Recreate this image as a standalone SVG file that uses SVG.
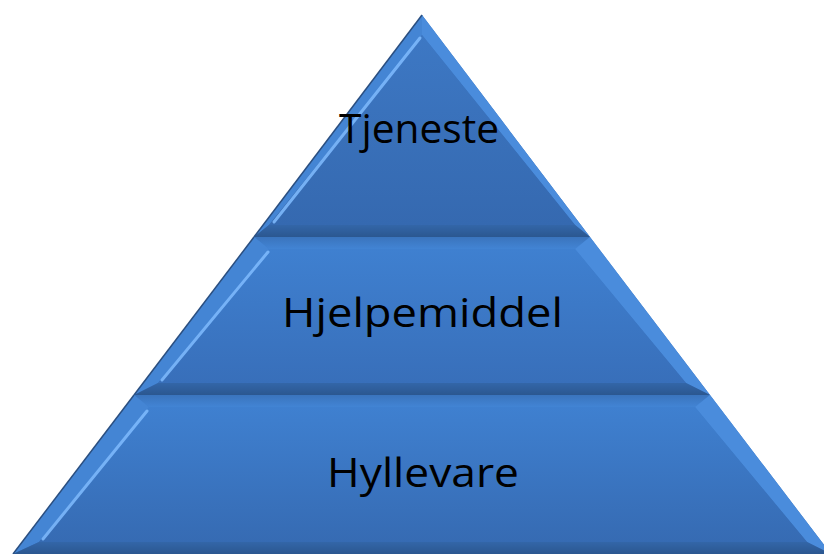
<svg xmlns="http://www.w3.org/2000/svg" width="824" height="554" viewBox="0 0 824 554">
<defs>
<linearGradient id="gTop" x1="0" y1="0" x2="0" y2="1"><stop offset="0" stop-color="#3d78c4"/><stop offset="1" stop-color="#3569b0"/></linearGradient>
<linearGradient id="gMid" x1="0" y1="0" x2="0" y2="1"><stop offset="0" stop-color="#3f80d0"/><stop offset="1" stop-color="#386fba"/></linearGradient>
<linearGradient id="gBot" x1="0" y1="0" x2="0" y2="1"><stop offset="0" stop-color="#3f80d0"/><stop offset="1" stop-color="#366bb3"/></linearGradient>
<linearGradient id="gBotBevel" x1="0" y1="0" x2="0" y2="1"><stop offset="0" stop-color="#3366a8"/><stop offset="1" stop-color="#2b5790"/></linearGradient>
<linearGradient id="gTopBevel" x1="0" y1="0" x2="0" y2="1"><stop offset="0" stop-color="#3a74bd"/><stop offset="1" stop-color="#4284d4"/></linearGradient>
</defs>
<style>
.tb{fill:url(#gTopBevel)}
.lb{fill:#4485d4}
.rb{fill:#4a8cdc}
.bb{fill:url(#gBotBevel)}
.hl{stroke:#80bcff;stroke-width:3;stroke-linecap:round;fill:none;opacity:0.85}
.edge{stroke:#2b4f80;stroke-width:1.5;fill:none}
.lbl{font-family:"Open Sans","Liberation Sans",sans-serif;font-size:41px;fill:#000;text-anchor:middle}
</style>
<g id="tier-top">
<polygon points="422,15 590,237 254,237" fill="url(#gTop)"/>
<polygon class="lb" points="422,15 422,35 269,225 254,237"/>
<polygon class="rb" points="422,15 590,237 575,225 422,35"/>
<polygon class="bb" points="254,237 269,225 575,225 590,237"/>
<polygon points="422,35 575,225 269,225" fill="url(#gTop)"/>
<line class="hl" x1="420" y1="38" x2="274" y2="222"/>
<line class="edge" x1="422" y1="15" x2="254" y2="237"/>
<text class="lbl" x="419" y="143" textLength="160" lengthAdjust="spacingAndGlyphs">Tjeneste</text>
</g>
<g id="tier-middle">
<polygon points="254,237 590,237 710,395 134,395" fill="url(#gMid)"/>
<polygon class="tb" points="254,237 590,237 575,249 269,249"/>
<polygon class="lb" points="254,237 269,249 158,383 134,395"/>
<polygon class="rb" points="590,237 710,395 686,383 575,249"/>
<polygon class="bb" points="134,395 158,383 686,383 710,395"/>
<polygon points="269,249 575,249 686,383 158,383" fill="url(#gMid)"/>
<line class="hl" x1="268" y1="252" x2="162" y2="380"/>
<line class="edge" x1="254" y1="237" x2="134" y2="395"/>
<text class="lbl" x="422.5" y="327" textLength="281" lengthAdjust="spacingAndGlyphs">Hjelpemiddel</text>
</g>
<g id="tier-bottom">
<polygon points="134,395 710,395 831,554 13,554" fill="url(#gBot)"/>
<polygon class="tb" points="134,395 710,395 695,407 149,407"/>
<polygon class="lb" points="134,395 149,407 39,542 13,554"/>
<polygon class="rb" points="710,395 831,554 807,542 695,407"/>
<polygon class="bb" points="13,554 39,542 807,542 831,554"/>
<polygon points="149,407 695,407 807,542 39,542" fill="url(#gBot)"/>
<line class="hl" x1="147" y1="411" x2="43" y2="539"/>
<line class="edge" x1="134" y1="395" x2="13" y2="554"/>
<text class="lbl" x="423" y="487" textLength="192" lengthAdjust="spacingAndGlyphs">Hyllevare</text>
</g>
</svg>
